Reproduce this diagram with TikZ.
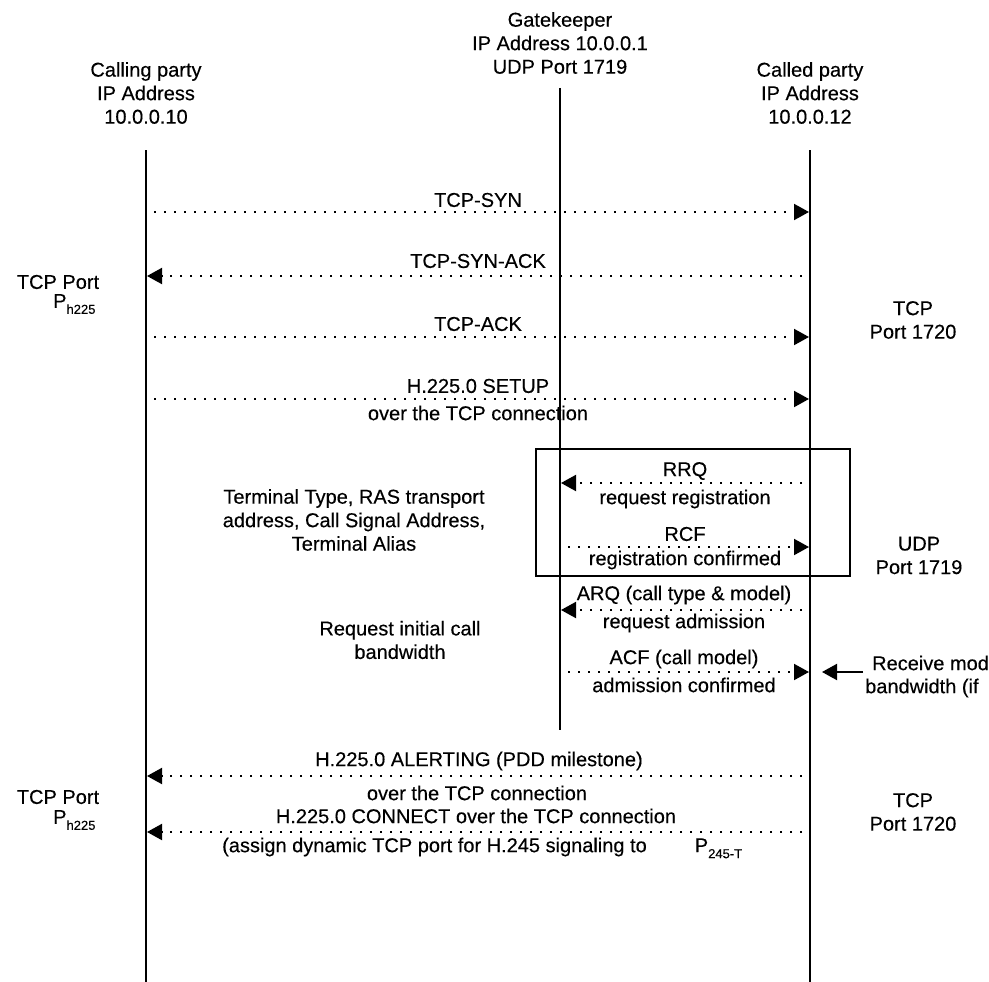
\documentclass[tikz,border=0pt]{standalone}
\usepackage{fontspec}
\setmainfont{Liberation Sans}[FakeBold=0.3]
\usetikzlibrary{arrows.meta}

\newcommand{\subtxt}[1]{\raisebox{-6pt}{\fontsize{13}{13}\selectfont #1}}

\begin{document}
\begin{tikzpicture}[x=1pt,y=-1pt,
  font=\fontsize{20}{23.5}\selectfont,
  lifeline/.style={line width=2.4pt},
  msg/.style={line width=2pt, dash pattern=on 2pt off 8pt, shorten <=8pt,
              -{Triangle[length=15pt,width=16pt]}},
  solidmsg/.style={line width=2pt, -{Triangle[length=15pt,width=16pt]}},
  txt/.style={inner sep=0pt, align=center},
  frame/.style={draw, line width=2pt, inner sep=0pt}]

\useasboundingbox (0,0) rectangle (989,982);
\clip (0,0) rectangle (989,982);

% ---- parties ----
\node[txt] (caller) at (146,93) {Calling party\\IP Address\\10.0.0.10};
\node[txt] (gk) at (560,43) {Gatekeeper\\IP Address 10.0.0.1\\UDP Port 1719};
\node[txt] (callee) at (810,93) {Called party\\IP Address\\10.0.0.12};

% ---- lifelines ----
\coordinate (Ltop) at (146,150);  \coordinate (Lbot) at (146,990);
\coordinate (Gtop) at (560,88);   \coordinate (Gbot) at (560,730);
\coordinate (Rtop) at (810,150);  \coordinate (Rbot) at (810,990);
\draw[lifeline] (Ltop) -- (Lbot);
\draw[lifeline] (Gtop) -- (Gbot);
\draw[lifeline] (Rtop) -- (Rbot);

% ---- TCP connection set-up ----
\coordinate (a1) at (146,212); \coordinate (b1) at (809,212);
\draw[msg] (a1) -- (b1);
\node[txt] (syn) at (478,200) {TCP-SYN};

\coordinate (a2) at (810,276); \coordinate (b2) at (147,276);
\draw[msg] (a2) -- (b2);
\node[txt] (synack) at (478,261) {TCP-SYN-ACK};

\coordinate (a3) at (146,337); \coordinate (b3) at (809,337);
\draw[msg] (a3) -- (b3);
\node[txt] (ack) at (478,324) {TCP-ACK};

\coordinate (a4) at (146,399); \coordinate (b4) at (809,399);
\draw[msg] (a4) -- (b4);
\node[txt] (setup) at (478,386) {H.225.0 SETUP};
\node[txt] (setupb) at (478,413) {over the TCP connection};

% ---- port labels ----
\node[txt] (lport1) at (58,282) {TCP Port};
\node[txt, anchor=west] (lph1) at (53,304) {P\subtxt{h225}};
\node[txt] (rport1) at (913,320) {TCP\\Port 1720};

% ---- RAS registration ----
\node[frame, minimum width=314pt, minimum height=127pt] (ras) at (693,512.5) {};

\coordinate (a5) at (810,483); \coordinate (b5) at (561,483);
\draw[msg] (a5) -- (b5);
\node[txt] (rrq) at (685,471) {RRQ};
\node[txt] (rrqb) at (685,499) {request registration};

\coordinate (a6) at (560,547); \coordinate (b6) at (809,547);
\draw[msg] (a6) -- (b6);
\node[txt] (rcf) at (685,534) {RCF};
\node[txt] (rcfb) at (685,560) {registration confirmed};

\node[txt] (regnote) at (354,520) {Terminal Type, RAS transport\\address, Call Signal Address,\\Terminal Alias};
\node[txt] (udp) at (919,555.5) {UDP\\Port 1719};

% ---- admission ----
\coordinate (a7) at (810,610); \coordinate (b7) at (561,610);
\draw[msg] (a7) -- (b7);
\node[txt] (arq) at (684,595) {ARQ (call type \& model)};
\node[txt] (arqb) at (684,623) {request admission};

\coordinate (a8) at (560,672); \coordinate (b8) at (809,672);
\draw[msg] (a8) -- (b8);
\node[txt] (acf) at (684,659) {ACF (call model)};
\node[txt] (acfb) at (684,685) {admission confirmed};

\node[txt] (bwnote) at (400,640) {Request initial call\\bandwidth};

\coordinate (rcvtail) at (863,672); \coordinate (rcvhead) at (822,672);
\draw[solidmsg] (rcvtail) -- (rcvhead);
\node[txt, anchor=west] (rcv1) at (872,663) {Receive mod};
\node[txt, anchor=west] (rcv2) at (865,688) {bandwidth (if};

% ---- call progress ----
\coordinate (a9) at (810,776); \coordinate (b9) at (147,776);
\draw[msg] (a9) -- (b9);
\node[txt] (alert) at (479,761) {H.225.0 ALERTING (PDD milestone)};
\node[txt] (alertb) at (477,793) {over the TCP connection};

\coordinate (a10) at (810,832); \coordinate (b10) at (147,832);
\draw[msg] (a10) -- (b10);
\node[txt] (conn) at (476,816) {H.225.0 CONNECT over the TCP connection};
\node[txt, anchor=west] (connb) at (222,848) {(assign dynamic TCP port for H.245 signaling to\hspace{48pt}P\subtxt{245-T}};

\node[txt] (lport2) at (58,797) {TCP Port};
\node[txt, anchor=west] (lph2) at (53,820) {P\subtxt{h225}};
\node[txt] (rport2) at (913,812) {TCP\\Port 1720};

\end{tikzpicture}
\end{document}
